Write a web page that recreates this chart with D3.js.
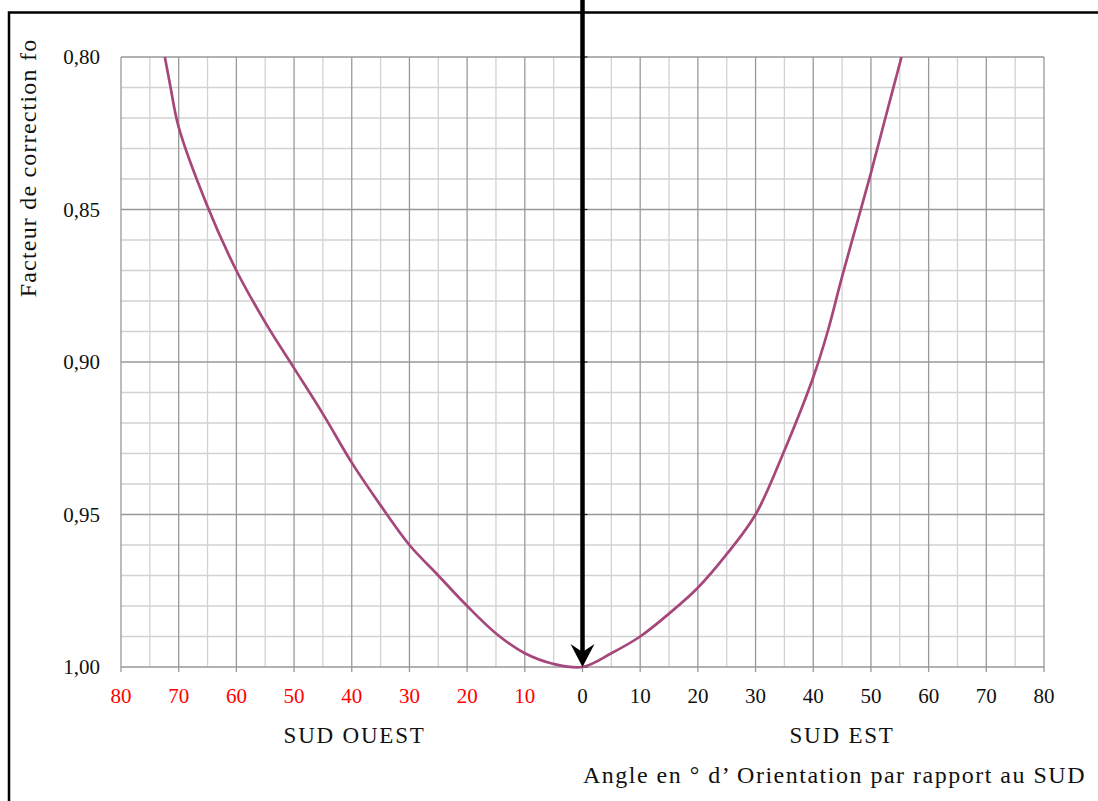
<!DOCTYPE html>
<html>
<head>
<meta charset="utf-8">
<script src="https://cdn.jsdelivr.net/npm/d3@7"></script>
<style>
  body { margin: 0; background: #fff; }
  text { font-family: "Liberation Serif", "DejaVu Serif", serif; fill: #111; }
</style>
</head>
<body>
<div id="chart"></div>
<script>
// angle (negative = sud ouest, positive = sud est) and correction factor fo
const angles = [-72.4, -71.5, -70, -65, -60, -55, -50, -45, -40, -35, -30, -25, -20, -15, -10, -5, 0,
  5, 10, 15, 20, 25, 30, 35, 40, 42.5, 45, 47.5, 50, 52.5, 55.3];
const factors = [0.800, 0.809, 0.823, 0.849, 0.870, 0.887, 0.902, 0.917, 0.933, 0.947, 0.960, 0.970, 0.980, 0.989, 0.9955, 0.999, 1.000,
  0.9955, 0.990, 0.9825, 0.974, 0.963, 0.950, 0.929, 0.905, 0.890, 0.872, 0.855, 0.838, 0.820, 0.800];

const xTicks = [-80, -70, -60, -50, -40, -30, -20, -10, 0, 10, 20, 30, 40, 50, 60, 70, 80];
const yTicks = [0.80, 0.85, 0.90, 0.95, 1.00];
const sideLabels = ["SUD OUEST", "SUD EST"];
const yTitle = "Facteur de correction fo";
const xTitle = "Angle en ° d’ Orientation par rapport au SUD";

const width = 1098;
const height = 801;
const margin = { top: 57, right: 54, bottom: 134, left: 121 };

const svg = d3.select("#chart").append("svg")
  .attr("width", width)
  .attr("height", height)

const x = d3.scaleLinear()
  .domain([-80, 80])
  .range([margin.left, width - margin.right])

const y = d3.scaleLinear()
  .domain([0.80, 1.00])
  .range([margin.top, height - margin.bottom])

// minor grid
svg.append("g")
  .selectAll("line")
  .data(d3.range(-75, 80, 10))
  .enter().append("line")
    .attr("x1", d => x(d)).attr("x2", d => x(d))
    .attr("y1", y(0.80)).attr("y2", y(1.00))
    .attr("stroke", "#d2d2d2").attr("stroke-width", 1.3)

svg.append("g")
  .selectAll("line")
  .data(d3.range(0.80, 1.0001, 0.01).filter((d, i) => i % 5 !== 0))
  .enter().append("line")
    .attr("x1", x(-80)).attr("x2", x(80))
    .attr("y1", d => y(d)).attr("y2", d => y(d))
    .attr("stroke", "#d2d2d2").attr("stroke-width", 1.3)

// major grid
svg.append("g")
  .selectAll("line")
  .data(xTicks)
  .enter().append("line")
    .attr("x1", d => x(d)).attr("x2", d => x(d))
    .attr("y1", y(0.80)).attr("y2", y(1.00) + 5)
    .attr("stroke", "#999").attr("stroke-width", 1.3)

svg.append("g")
  .selectAll("line")
  .data(yTicks)
  .enter().append("line")
    .attr("x1", x(-80)).attr("x2", x(80))
    .attr("y1", d => y(d)).attr("y2", d => y(d))
    .attr("stroke", "#999").attr("stroke-width", 1.3)

// small ticks on the centre axis
svg.append("g")
  .selectAll("line")
  .data(yTicks)
  .enter().append("line")
    .attr("x1", x(0)).attr("x2", x(0) + 5)
    .attr("y1", d => y(d)).attr("y2", d => y(d))
    .attr("stroke", "#222").attr("stroke-width", 1.2)

// y labels
svg.append("g")
  .selectAll("text")
  .data(yTicks)
  .enter().append("text")
    .attr("x", x(-80) - 21)
    .attr("y", d => y(d))
    .attr("dy", "0.35em")
    .attr("text-anchor", "end")
    .style("font-size", "21px")
    .text(d => d3.format(".2f")(d).replace(".", ","))

// x labels
svg.append("g")
  .selectAll("text")
  .data(xTicks)
  .enter().append("text")
    .attr("x", d => x(d))
    .attr("y", 703)
    .attr("text-anchor", "middle")
    .style("font-size", "21px")
    .style("fill", d => d < 0 ? "#ff0000" : "#111")
    .text(d => Math.abs(d))

svg.append("text")
  .attr("x", x(-39.5)).attr("y", 743)
  .attr("text-anchor", "middle")
  .style("font-size", "23px")
  .style("letter-spacing", "1.8px")
  .text(sideLabels[0])

svg.append("text")
  .attr("x", x(45)).attr("y", 743)
  .attr("text-anchor", "middle")
  .style("font-size", "23px")
  .style("letter-spacing", "1.8px")
  .text(sideLabels[1])

svg.append("text")
  .attr("x", 1086).attr("y", 783)
  .attr("text-anchor", "end")
  .style("font-size", "24px")
  .style("letter-spacing", "1.5px")
  .text(xTitle)

svg.append("text")
  .attr("transform", "translate(36,168) rotate(-90)")
  .attr("text-anchor", "middle")
  .style("font-size", "24px")
  .style("letter-spacing", "1.2px")
  .text(yTitle)

// curve
const points = angles.map((a, i) => [a, factors[i]]);
const line = d3.line()
  .x(d => x(d[0]))
  .y(d => y(d[1]))
  .curve(d3.curveCatmullRom.alpha(0.5))

svg.append("path")
  .datum(points)
  .attr("d", line)
  .attr("fill", "none")
  .attr("stroke", "#a6477b")
  .attr("stroke-width", 2.7)

// arrow pointing at the south
const ax = x(0);
const tipY = y(1.00);
svg.append("line")
  .attr("x1", ax).attr("x2", ax)
  .attr("y1", 0).attr("y2", tipY - 14)
  .attr("stroke", "#000").attr("stroke-width", 4.5)

svg.append("path")
  .attr("d", `M${ax},${tipY} L${ax - 12},${tipY - 23} L${ax},${tipY - 15} L${ax + 12},${tipY - 23} Z`)
  .attr("fill", "#000")

// frame
svg.append("path")
  .attr("d", `M9,${height} L9,12.5 L${width},12.5`)
  .attr("fill", "none")
  .attr("stroke", "#000")
  .attr("stroke-width", 2.5)
</script>
</body>
</html>
